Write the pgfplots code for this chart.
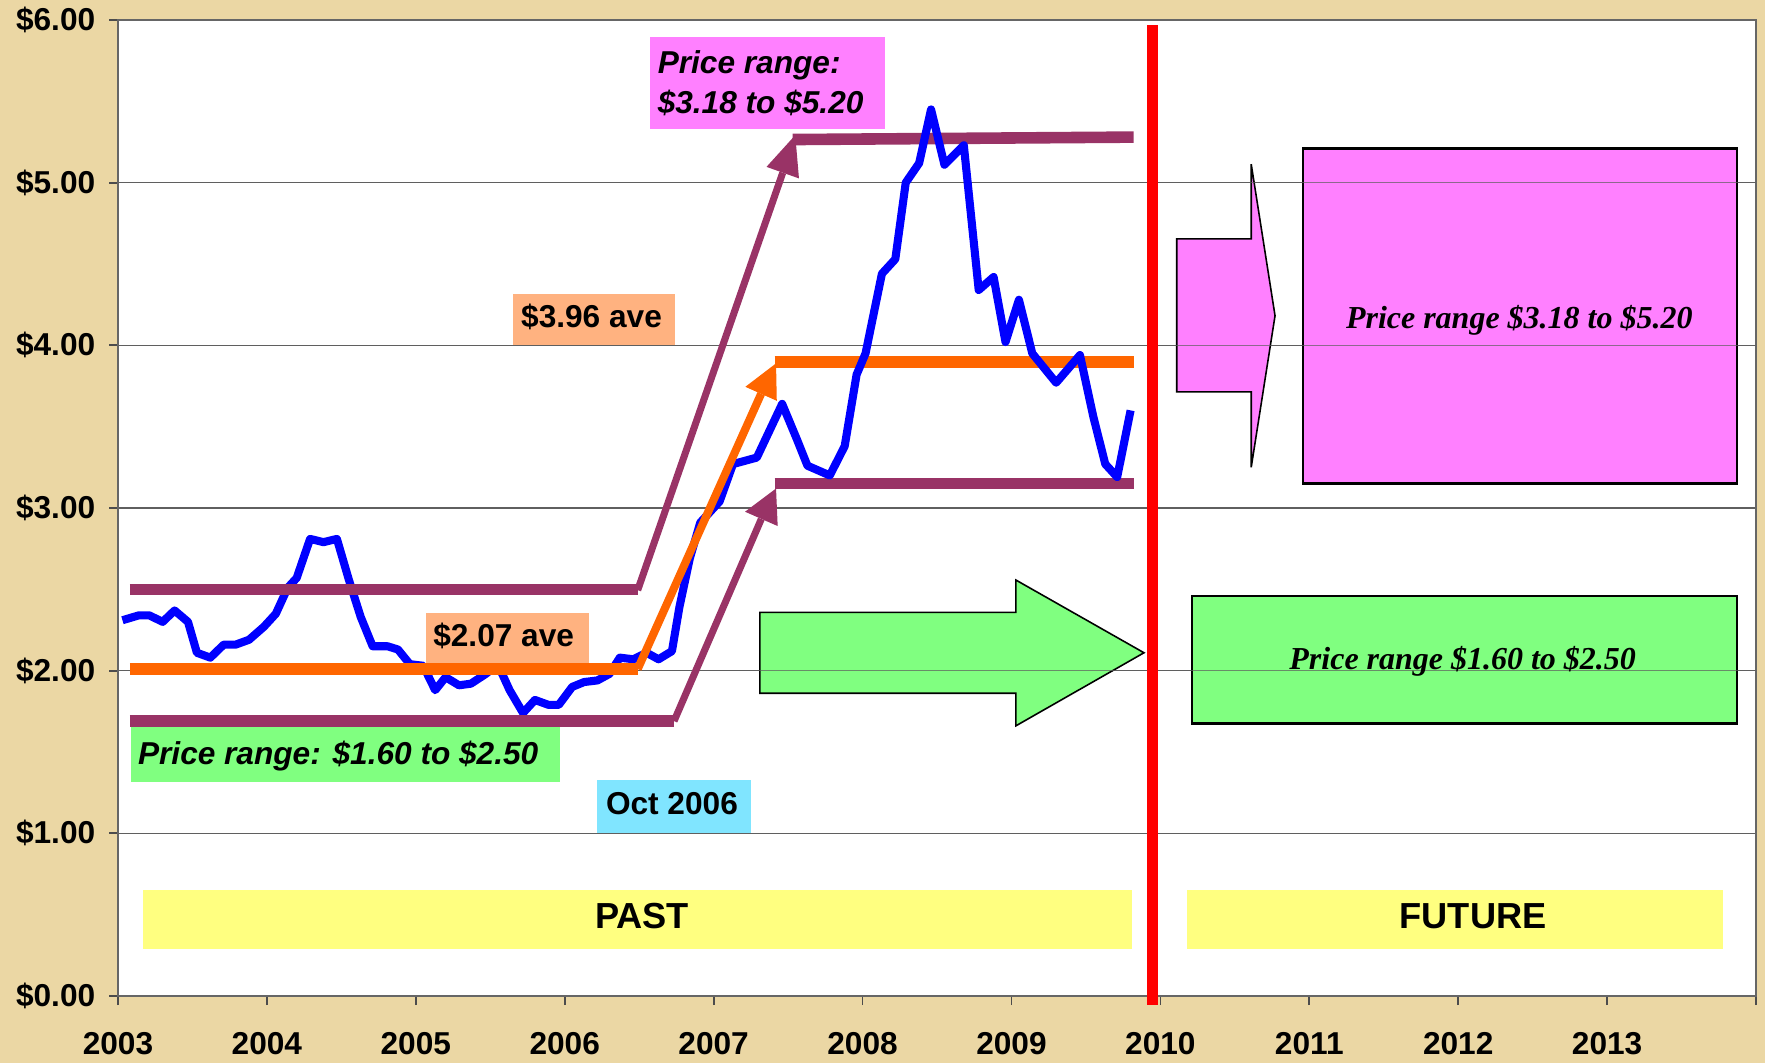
\documentclass[border=0pt]{standalone}
\usepackage{pgfplots}
\pgfplotsset{compat=1.18}
\usepackage{pgfplotstable}
\usepackage{fontspec}
\setmainfont{Liberation Sans}
\newfontfamily\timesfont{Liberation Serif}
\definecolor{bgtan}{RGB}{235,215,164}
\definecolor{plum}{RGB}{153,51,102}
\definecolor{orng}{RGB}{255,102,0}
\definecolor{magbox}{RGB}{255,128,255}
\definecolor{grnbox}{RGB}{128,255,128}
\definecolor{cyanbox}{RGB}{128,229,255}
\definecolor{peach}{RGB}{255,178,128}
\definecolor{yelbox}{RGB}{255,255,128}
\definecolor{gridgray}{RGB}{95,95,95}
\newcommand\lbl{\fontsize{9}{11}\selectfont\bfseries}

\pgfplotstableread{
x y
2003.03 2.31
2003.14 2.34
2003.21 2.34
2003.30 2.30
2003.38 2.37
2003.47 2.30
2003.53 2.11
2003.62 2.08
2003.71 2.16
2003.79 2.16
2003.88 2.19
2003.98 2.27
2004.06 2.35
2004.14 2.51
2004.20 2.57
2004.29 2.81
2004.38 2.79
2004.47 2.81
2004.55 2.56
2004.63 2.33
2004.71 2.15
2004.81 2.15
2004.88 2.13
2004.96 2.04
2005.05 2.03
2005.13 1.88
2005.20 1.96
2005.29 1.91
2005.37 1.92
2005.47 1.98
2005.55 2.04
2005.63 1.88
2005.72 1.74
2005.80 1.82
2005.89 1.79
2005.96 1.79
2006.05 1.90
2006.13 1.93
2006.22 1.94
2006.30 1.98
2006.37 2.08
2006.46 2.07
2006.55 2.11
2006.63 2.07
2006.72 2.12
2006.77 2.39
2006.84 2.69
2006.91 2.91
2007.04 3.04
2007.13 3.27
2007.29 3.31
2007.46 3.64
2007.56 3.42
2007.63 3.26
2007.78 3.20
2007.88 3.38
2007.96 3.82
2008.02 3.95
2008.13 4.44
2008.22 4.53
2008.29 5.00
2008.38 5.12
2008.46 5.45
2008.55 5.11
2008.68 5.23
2008.78 4.34
2008.88 4.42
2008.96 4.02
2009.05 4.28
2009.14 3.95
2009.22 3.86
2009.30 3.77
2009.46 3.94
2009.55 3.56
2009.63 3.27
2009.71 3.19
2009.80 3.60
}\blueprice

\begin{document}
\begin{tikzpicture}
\fill[bgtan] (-1.18,-0.67) rectangle (16.47,9.96);
\fill[white] (0,0) rectangle (16.38,9.76);
\begin{axis}[
  at={(0,0)}, anchor=south west,
  scale only axis, width=16.38cm, height=9.76cm,
  xmin=2003, xmax=2014, ymin=0, ymax=6,
  clip=false,
  axis line style={draw=black!60, line width=0.6pt},
  xtick={2003,2004,2005,2006,2007,2008,2009,2010,2011,2012,2013,2014},
  xticklabels={2003,2004,2005,2006,2007,2008,2009,2010,2011,2012,2013,{}},
  ytick={0,1,2,3,4,5,6},
  yticklabels={\$0.00,\$1.00,\$2.00,\$3.00,\$4.00,\$5.00,\$6.00},
  tick align=outside,
  tick pos=left,
  major tick length=0.9mm,
  tick style={black!70, line width=0.5pt},
  ymajorgrids,
  grid style={gridgray, line width=0.45pt},
  ticklabel style={font=\lbl, inner sep=0pt},
  xticklabel style={yshift=-2.66mm},
  yticklabel style={xshift=-1.31mm},
]
% future range lines (under the price line)
\addplot[plum, line width=3.3pt, forget plot] coordinates {(2007.53,5.265) (2009.82,5.28)};
\addplot[orng, line width=3.4pt, forget plot] coordinates {(2007.41,3.90) (2009.82,3.90)};
\addplot[plum, line width=3.3pt, forget plot] coordinates {(2007.41,3.15) (2009.82,3.15)};

% price
\addplot[blue, line width=2.3pt, line join=round, forget plot] table[x=x,y=y] {\blueprice};

% small label boxes
\fill[grnbox] (2003.09,1.317) rectangle (2005.97,1.653);
\node[anchor=base west, inner sep=0] at (2003.13,1.423) {\lbl\itshape Price range: \$1.60 to \$2.50};
\fill[cyanbox] (2006.22,1.004) rectangle (2007.25,1.33);
\node[anchor=base, inner sep=0] at (2006.72,1.116) {\lbl Oct 2006};
\fill[peach] (2005.07,2.047) rectangle (2006.16,2.354);
\node[anchor=base, inner sep=0] at (2005.59,2.148) {\lbl \$2.07 ave};
\fill[peach] (2005.654,4.005) rectangle (2006.74,4.316);
\node[anchor=base, inner sep=0] at (2006.18,4.107) {\lbl \$3.96 ave};
\fill[magbox] (2006.57,5.327) rectangle (2008.15,5.894);
\node[anchor=base west, inner sep=0] at (2006.62,5.672) {\lbl\itshape Price range:};
\node[anchor=base west, inner sep=0] at (2006.62,5.426) {\lbl\itshape \$3.18 to \$5.20};
\fill[yelbox] (2003.17,0.289) rectangle (2009.81,0.649);
\node[anchor=base, inner sep=0] at (2006.52,0.418) {\fontsize{10.3}{12}\selectfont\bfseries PAST};
\fill[yelbox] (2010.18,0.289) rectangle (2013.78,0.649);
\node[anchor=base, inner sep=0] at (2012.10,0.418) {\fontsize{10.3}{12}\selectfont\bfseries FUTURE};

% past range lines and arrows (over the price line)
\addplot[plum, line width=3.3pt, forget plot] coordinates {(2003.08,2.50) (2006.49,2.50)};
\addplot[plum, line width=2pt, forget plot] coordinates {(2006.49,2.495) (2007.464,5.061)};
\fill[plum] (2007.548,5.292) -- (2007.355,5.097) -- (2007.573,5.026) -- cycle;
\addplot[orng, line width=3.4pt, forget plot] coordinates {(2003.08,2.01) (2006.49,2.01)};
\addplot[orng, line width=2.3pt, forget plot] coordinates {(2006.49,2.01) (2007.319,3.702)};
\fill[orng] (2007.419,3.889) -- (2007.213,3.745) -- (2007.424,3.659) -- cycle;
\addplot[plum, line width=3.3pt, forget plot] coordinates {(2003.08,1.69) (2006.734,1.69)};
\addplot[plum, line width=2pt, forget plot] coordinates {(2006.734,1.69) (2007.320,2.932)};
\fill[plum] (2007.419,3.120) -- (2007.211,2.977) -- (2007.430,2.889) -- cycle;

% block arrows and future boxes
\filldraw[fill=grnbox, draw=black, line width=0.45pt] (2007.31,2.358) -- (2009.03,2.358) -- (2009.03,2.557) -- (2009.89,2.110) -- (2009.03,1.661) -- (2009.03,1.861) -- (2007.31,1.861) -- cycle;
\filldraw[fill=magbox, draw=black, line width=0.45pt] (2010.11,4.654) -- (2010.61,4.654) -- (2010.61,5.114) -- (2010.77,4.182) -- (2010.61,3.250) -- (2010.61,3.714) -- (2010.11,3.714) -- cycle;
\filldraw[fill=magbox, draw=black, line width=0.65pt] (2010.96,3.151) rectangle (2013.87,5.21);
\filldraw[fill=grnbox, draw=black, line width=0.65pt] (2010.21,1.676) rectangle (2013.87,2.460);
% grid lines showing through the shapes
\draw[gridgray, line width=0.45pt, opacity=0.7] (2007.3,2) -- (2014,2);
\draw[gridgray, line width=0.45pt, opacity=0.7] (2010.0,4) -- (2014,4);
\draw[gridgray, line width=0.45pt, opacity=0.7] (2010.0,5) -- (2014,5);
\node[anchor=base, inner sep=0] at (2012.41,4.104) {\timesfont\fontsize{9.1}{11}\selectfont\bfseries\itshape Price range \$3.18 to \$5.20};
\node[anchor=base, inner sep=0] at (2012.03,2.008) {\timesfont\fontsize{9.1}{11}\selectfont\bfseries\itshape Price range \$1.60 to \$2.50};

% present divider
\addplot[red, line width=3.1pt, forget plot] coordinates {(2009.95,-0.055) (2009.95,5.97)};
\end{axis}
\pgfresetboundingbox
\path[use as bounding box] (-1.18,-0.67) rectangle (16.47,9.96);
\end{tikzpicture}
\end{document}
